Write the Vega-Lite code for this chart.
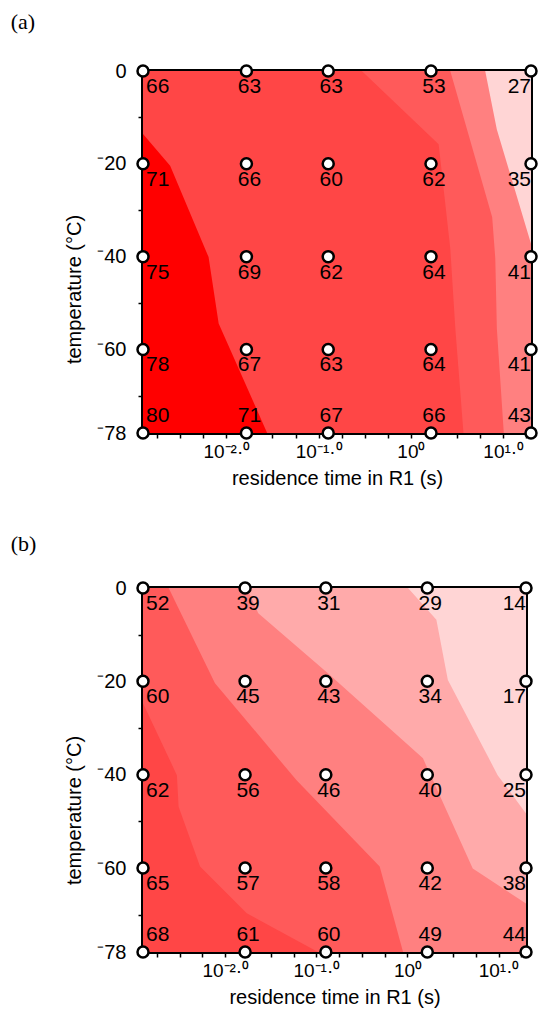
{
  "$schema": "https://vega.github.io/schema/vega-lite/v6.json",
  "padding": {"left": 8, "top": 8, "right": 0, "bottom": 0},
  "background": "white",
  "spacing": 40,
  "config": {
    "view": {"stroke": "black", "strokeWidth": 4},
    "axis": {
      "domain": false, "grid": false, "ticks": true, "tickColor": "black", "tickSize": 5, "tickWidth": 1.5,
      "labelColor": "black", "labelFont": "Liberation Sans", "labelFontSize": 20,
      "titleFont": "Liberation Sans", "titleFontSize": 20, "titleFontWeight": "normal", "titleColor": "black"
    },
    "title": {"font": "Liberation Serif", "fontSize": 22, "fontWeight": "normal", "color": "black", "anchor": "start", "frame": "bounds"}
  },
  "datasets": {
    "contours": [
      {"panel": "a", "level": 0, "i": 1, "t": 0.00125, "temp": 0},
      {"panel": "a", "level": 0, "i": 2, "t": 20, "temp": 0},
      {"panel": "a", "level": 0, "i": 3, "t": 20, "temp": -78},
      {"panel": "a", "level": 0, "i": 4, "t": 0.00125, "temp": -78},
      {"panel": "a", "level": 2, "i": 1, "t": 0.00125, "temp": 0},
      {"panel": "a", "level": 2, "i": 2, "t": 6.381, "temp": 0},
      {"panel": "a", "level": 2, "i": 3, "t": 8.531, "temp": -12.6},
      {"panel": "a", "level": 2, "i": 4, "t": 20, "temp": -37.2},
      {"panel": "a", "level": 2, "i": 5, "t": 20, "temp": -78},
      {"panel": "a", "level": 2, "i": 6, "t": 0.00125, "temp": -78},
      {"panel": "a", "level": 3, "i": 1, "t": 0.00125, "temp": 0},
      {"panel": "a", "level": 3, "i": 2, "t": 2.67, "temp": 0},
      {"panel": "a", "level": 3, "i": 3, "t": 7.596, "temp": -31.5},
      {"panel": "a", "level": 3, "i": 4, "t": 8.208, "temp": -40.4},
      {"panel": "a", "level": 3, "i": 5, "t": 8.531, "temp": -55.5},
      {"panel": "a", "level": 3, "i": 6, "t": 10.15, "temp": -78},
      {"panel": "a", "level": 3, "i": 7, "t": 0.00125, "temp": -78},
      {"panel": "a", "level": 4, "i": 1, "t": 0.00125, "temp": 0},
      {"panel": "a", "level": 4, "i": 2, "t": 0.2938, "temp": 0},
      {"panel": "a", "level": 4, "i": 3, "t": 1.997, "temp": -15.8},
      {"panel": "a", "level": 4, "i": 4, "t": 2.67, "temp": -38.3},
      {"panel": "a", "level": 4, "i": 5, "t": 3.028, "temp": -55.5},
      {"panel": "a", "level": 4, "i": 6, "t": 3.711, "temp": -78},
      {"panel": "a", "level": 4, "i": 7, "t": 0.00125, "temp": -78},
      {"panel": "a", "level": 5, "i": 1, "t": 0.00125, "temp": -13.6},
      {"panel": "a", "level": 5, "i": 2, "t": 0.002461, "temp": -20.4},
      {"panel": "a", "level": 5, "i": 3, "t": 0.006418, "temp": -40.1},
      {"panel": "a", "level": 5, "i": 4, "t": 0.008254, "temp": -54.4},
      {"panel": "a", "level": 5, "i": 5, "t": 0.02768, "temp": -78},
      {"panel": "a", "level": 5, "i": 6, "t": 0.00125, "temp": -78},
      {"panel": "b", "level": 0, "i": 1, "t": 0.00125, "temp": 0},
      {"panel": "b", "level": 0, "i": 2, "t": 20, "temp": 0},
      {"panel": "b", "level": 0, "i": 3, "t": 20, "temp": -78},
      {"panel": "b", "level": 0, "i": 4, "t": 0.00125, "temp": -78},
      {"panel": "b", "level": 1, "i": 1, "t": 0.00125, "temp": 0},
      {"panel": "b", "level": 1, "i": 2, "t": 1.014, "temp": 0},
      {"panel": "b", "level": 1, "i": 3, "t": 2.076, "temp": -6.8},
      {"panel": "b", "level": 1, "i": 4, "t": 2.776, "temp": -19.7},
      {"panel": "b", "level": 1, "i": 5, "t": 9.77, "temp": -40.1},
      {"panel": "b", "level": 1, "i": 6, "t": 20, "temp": -48.3},
      {"panel": "b", "level": 1, "i": 7, "t": 20, "temp": -78},
      {"panel": "b", "level": 1, "i": 8, "t": 0.00125, "temp": -78},
      {"panel": "b", "level": 2, "i": 1, "t": 0.00125, "temp": 0},
      {"panel": "b", "level": 2, "i": 2, "t": 0.01722, "temp": 0},
      {"panel": "b", "level": 2, "i": 3, "t": 0.02303, "temp": -5.4},
      {"panel": "b", "level": 2, "i": 4, "t": 0.1348, "temp": -18.3},
      {"panel": "b", "level": 2, "i": 5, "t": 1.48, "temp": -36.5},
      {"panel": "b", "level": 2, "i": 6, "t": 5.206, "temp": -60.1},
      {"panel": "b", "level": 2, "i": 7, "t": 20, "temp": -67.6},
      {"panel": "b", "level": 2, "i": 8, "t": 20, "temp": -78},
      {"panel": "b", "level": 2, "i": 9, "t": 0.00125, "temp": -78},
      {"panel": "b", "level": 3, "i": 1, "t": 0.00125, "temp": 0},
      {"panel": "b", "level": 3, "i": 2, "t": 0.00239, "temp": 0},
      {"panel": "b", "level": 3, "i": 3, "t": 0.007713, "temp": -20.4},
      {"panel": "b", "level": 3, "i": 4, "t": 0.06063, "temp": -41.2},
      {"panel": "b", "level": 3, "i": 5, "t": 0.4955, "temp": -59.7},
      {"panel": "b", "level": 3, "i": 6, "t": 0.8943, "temp": -78},
      {"panel": "b", "level": 3, "i": 7, "t": 0.00125, "temp": -78},
      {"panel": "b", "level": 4, "i": 1, "t": 0.00125, "temp": -24.7},
      {"panel": "b", "level": 4, "i": 2, "t": 0.002944, "temp": -40.1},
      {"panel": "b", "level": 4, "i": 3, "t": 0.003075, "temp": -46.9},
      {"panel": "b", "level": 4, "i": 4, "t": 0.005287, "temp": -59.7},
      {"panel": "b", "level": 4, "i": 5, "t": 0.01722, "temp": -69.7},
      {"panel": "b", "level": 4, "i": 6, "t": 0.1043, "temp": -78},
      {"panel": "b", "level": 4, "i": 7, "t": 0.00125, "temp": -78}
    ],
    "grid": [
      {"panel": "a", "t": 0.00125, "temp": 0, "v": 66},
      {"panel": "a", "t": 0.0165, "temp": 0, "v": 63},
      {"panel": "a", "t": 0.127, "temp": 0, "v": 63},
      {"panel": "a", "t": 1.65, "temp": 0, "v": 53},
      {"panel": "a", "t": 20, "temp": 0, "v": 27},
      {"panel": "a", "t": 0.00125, "temp": -20, "v": 71},
      {"panel": "a", "t": 0.0165, "temp": -20, "v": 66},
      {"panel": "a", "t": 0.127, "temp": -20, "v": 60},
      {"panel": "a", "t": 1.65, "temp": -20, "v": 62},
      {"panel": "a", "t": 20, "temp": -20, "v": 35},
      {"panel": "a", "t": 0.00125, "temp": -40, "v": 75},
      {"panel": "a", "t": 0.0165, "temp": -40, "v": 69},
      {"panel": "a", "t": 0.127, "temp": -40, "v": 62},
      {"panel": "a", "t": 1.65, "temp": -40, "v": 64},
      {"panel": "a", "t": 20, "temp": -40, "v": 41},
      {"panel": "a", "t": 0.00125, "temp": -60, "v": 78},
      {"panel": "a", "t": 0.0165, "temp": -60, "v": 67},
      {"panel": "a", "t": 0.127, "temp": -60, "v": 63},
      {"panel": "a", "t": 1.65, "temp": -60, "v": 64},
      {"panel": "a", "t": 20, "temp": -60, "v": 41},
      {"panel": "a", "t": 0.00125, "temp": -78, "v": 80},
      {"panel": "a", "t": 0.0165, "temp": -78, "v": 71},
      {"panel": "a", "t": 0.127, "temp": -78, "v": 67},
      {"panel": "a", "t": 1.65, "temp": -78, "v": 66},
      {"panel": "a", "t": 20, "temp": -78, "v": 43},
      {"panel": "b", "t": 0.00125, "temp": 0, "v": 52},
      {"panel": "b", "t": 0.0165, "temp": 0, "v": 39},
      {"panel": "b", "t": 0.127, "temp": 0, "v": 31},
      {"panel": "b", "t": 1.65, "temp": 0, "v": 29},
      {"panel": "b", "t": 20, "temp": 0, "v": 14},
      {"panel": "b", "t": 0.00125, "temp": -20, "v": 60},
      {"panel": "b", "t": 0.0165, "temp": -20, "v": 45},
      {"panel": "b", "t": 0.127, "temp": -20, "v": 43},
      {"panel": "b", "t": 1.65, "temp": -20, "v": 34},
      {"panel": "b", "t": 20, "temp": -20, "v": 17},
      {"panel": "b", "t": 0.00125, "temp": -40, "v": 62},
      {"panel": "b", "t": 0.0165, "temp": -40, "v": 56},
      {"panel": "b", "t": 0.127, "temp": -40, "v": 46},
      {"panel": "b", "t": 1.65, "temp": -40, "v": 40},
      {"panel": "b", "t": 20, "temp": -40, "v": 25},
      {"panel": "b", "t": 0.00125, "temp": -60, "v": 65},
      {"panel": "b", "t": 0.0165, "temp": -60, "v": 57},
      {"panel": "b", "t": 0.127, "temp": -60, "v": 58},
      {"panel": "b", "t": 1.65, "temp": -60, "v": 42},
      {"panel": "b", "t": 20, "temp": -60, "v": 38},
      {"panel": "b", "t": 0.00125, "temp": -78, "v": 68},
      {"panel": "b", "t": 0.0165, "temp": -78, "v": 61},
      {"panel": "b", "t": 0.127, "temp": -78, "v": 60},
      {"panel": "b", "t": 1.65, "temp": -78, "v": 49},
      {"panel": "b", "t": 20, "temp": -78, "v": 44}
    ]
  },
  "vconcat": [
    {
      "title": {"text": "(a)", "dx": -54, "offset": 27},
      "width": 388,
      "height": 362,
      "layer": [
        {
          "data": {"name": "contours"},
          "transform": [{"filter": "datum.panel == 'a'"}],
          "mark": {"type": "line", "filled": true, "opacity": 1, "strokeWidth": 0},
          "encoding": {
            "x": {"field": "t", "type": "quantitative", "scale": {"type": "log", "domain": [0.00125, 20], "nice": false},
              "axis": {"title": "residence time in R1 (s)", "values": [0.0017783, 0.0031623, 0.0056234, 0.01, 0.017783, 0.031623, 0.056234, 0.1, 0.17783, 0.31623, 0.56234, 1, 1.7783, 3.1623, 5.6234, 10, 17.783],
                "labelExpr": "datum.value > 0.009 && datum.value < 0.011 ? '10⁻²·⁰' : datum.value > 0.09 && datum.value < 0.11 ? '10⁻¹·⁰' : datum.value > 0.9 && datum.value < 1.1 ? '10⁰' : datum.value > 9 && datum.value < 11 ? '10¹·⁰' : ''",
                "labelOverlap": false, "labelFlush": false, "labelPadding": 4, "titlePadding": 7, "labelFontSize": 19}},
            "y": {"field": "temp", "type": "quantitative", "scale": {"domain": [-78, 0], "nice": false, "zero": false},
              "axis": {"title": "temperature (°C)", "values": [0, -5, -10, -15, -20, -25, -30, -35, -40, -45, -50, -55, -60, -65, -70, -75, -78],
                "labelExpr": "datum.value == 0 ? '0' : (datum.value == -20 || datum.value == -40 || datum.value == -60 || datum.value == -78) ? '⁻' + abs(datum.value) : ''",
                "labelOverlap": false, "labelFlush": false, "labelPadding": 12, "titlePadding": 12, "titleY": 218}},
            "color": {"field": "level", "type": "ordinal", "scale": {"domain": [0, 1, 2, 3, 4, 5], "range": ["#FFD5D5", "#FFAAAA", "#FF8080", "#FF5A5A", "#FF4646", "#FF0000"]}, "legend": null},
            "detail": {"field": "level"},
            "order": {"field": "i", "type": "quantitative"}
          }
        },
        {
          "data": {"name": "grid"},
          "transform": [{"filter": "datum.panel == 'a'"}],
          "mark": {"type": "point", "shape": "circle", "filled": true, "fill": "white", "stroke": "black", "strokeWidth": 2.5, "size": 121, "opacity": 1},
          "encoding": {
            "x": {"field": "t", "type": "quantitative"},
            "y": {"field": "temp", "type": "quantitative"}
          }
        },
        {
          "data": {"name": "grid"},
          "transform": [{"filter": "datum.panel == 'a'"}],
          "mark": {"type": "text", "font": "Liberation Sans", "fontSize": 21, "color": "black", "baseline": "middle",
            "align": {"expr": "datum.t < 0.002 ? 'left' : datum.t > 19 ? 'right' : 'center'"},
            "dx": {"expr": "datum.t > 19 ? 0 : 3"},
            "dy": {"expr": "datum.temp < -77 ? -17 : 16"}},
          "encoding": {
            "x": {"field": "t", "type": "quantitative"},
            "y": {"field": "temp", "type": "quantitative"},
            "text": {"field": "v", "type": "quantitative"}
          }
        }
      ]
    },
    {
      "title": {"text": "(b)", "dx": -54, "offset": 22},
      "width": 383,
      "height": 364,
      "layer": [
        {
          "data": {"name": "contours"},
          "transform": [{"filter": "datum.panel == 'b'"}],
          "mark": {"type": "line", "filled": true, "opacity": 1, "strokeWidth": 0},
          "encoding": {
            "x": {"field": "t", "type": "quantitative", "scale": {"type": "log", "domain": [0.00125, 20], "nice": false},
              "axis": {"title": "residence time in R1 (s)", "values": [0.0017783, 0.0031623, 0.0056234, 0.01, 0.017783, 0.031623, 0.056234, 0.1, 0.17783, 0.31623, 0.56234, 1, 1.7783, 3.1623, 5.6234, 10, 17.783],
                "labelExpr": "datum.value > 0.009 && datum.value < 0.011 ? '10⁻²·⁰' : datum.value > 0.09 && datum.value < 0.11 ? '10⁻¹·⁰' : datum.value > 0.9 && datum.value < 1.1 ? '10⁰' : datum.value > 9 && datum.value < 11 ? '10¹·⁰' : ''",
                "labelOverlap": false, "labelFlush": false, "labelPadding": 4, "titlePadding": 7, "labelFontSize": 19}},
            "y": {"field": "temp", "type": "quantitative", "scale": {"domain": [-78, 0], "nice": false, "zero": false},
              "axis": {"title": "temperature (°C)", "values": [0, -5, -10, -15, -20, -25, -30, -35, -40, -45, -50, -55, -60, -65, -70, -75, -78],
                "labelExpr": "datum.value == 0 ? '0' : (datum.value == -20 || datum.value == -40 || datum.value == -60 || datum.value == -78) ? '⁻' + abs(datum.value) : ''",
                "labelOverlap": false, "labelFlush": false, "labelPadding": 12, "titlePadding": 12, "titleY": 222}},
            "color": {"field": "level", "type": "ordinal", "scale": {"domain": [0, 1, 2, 3, 4, 5], "range": ["#FFD5D5", "#FFAAAA", "#FF8080", "#FF5A5A", "#FF4646", "#FF0000"]}, "legend": null},
            "detail": {"field": "level"},
            "order": {"field": "i", "type": "quantitative"}
          }
        },
        {
          "data": {"name": "grid"},
          "transform": [{"filter": "datum.panel == 'b'"}],
          "mark": {"type": "point", "shape": "circle", "filled": true, "fill": "white", "stroke": "black", "strokeWidth": 2.5, "size": 121, "opacity": 1},
          "encoding": {
            "x": {"field": "t", "type": "quantitative"},
            "y": {"field": "temp", "type": "quantitative"}
          }
        },
        {
          "data": {"name": "grid"},
          "transform": [{"filter": "datum.panel == 'b'"}],
          "mark": {"type": "text", "font": "Liberation Sans", "fontSize": 21, "color": "black", "baseline": "middle",
            "align": {"expr": "datum.t < 0.002 ? 'left' : datum.t > 19 ? 'right' : 'center'"},
            "dx": {"expr": "datum.t > 19 ? 0 : 3"},
            "dy": {"expr": "datum.temp < -77 ? -17 : 16"}},
          "encoding": {
            "x": {"field": "t", "type": "quantitative"},
            "y": {"field": "temp", "type": "quantitative"},
            "text": {"field": "v", "type": "quantitative"}
          }
        }
      ]
    }
  ]
}
